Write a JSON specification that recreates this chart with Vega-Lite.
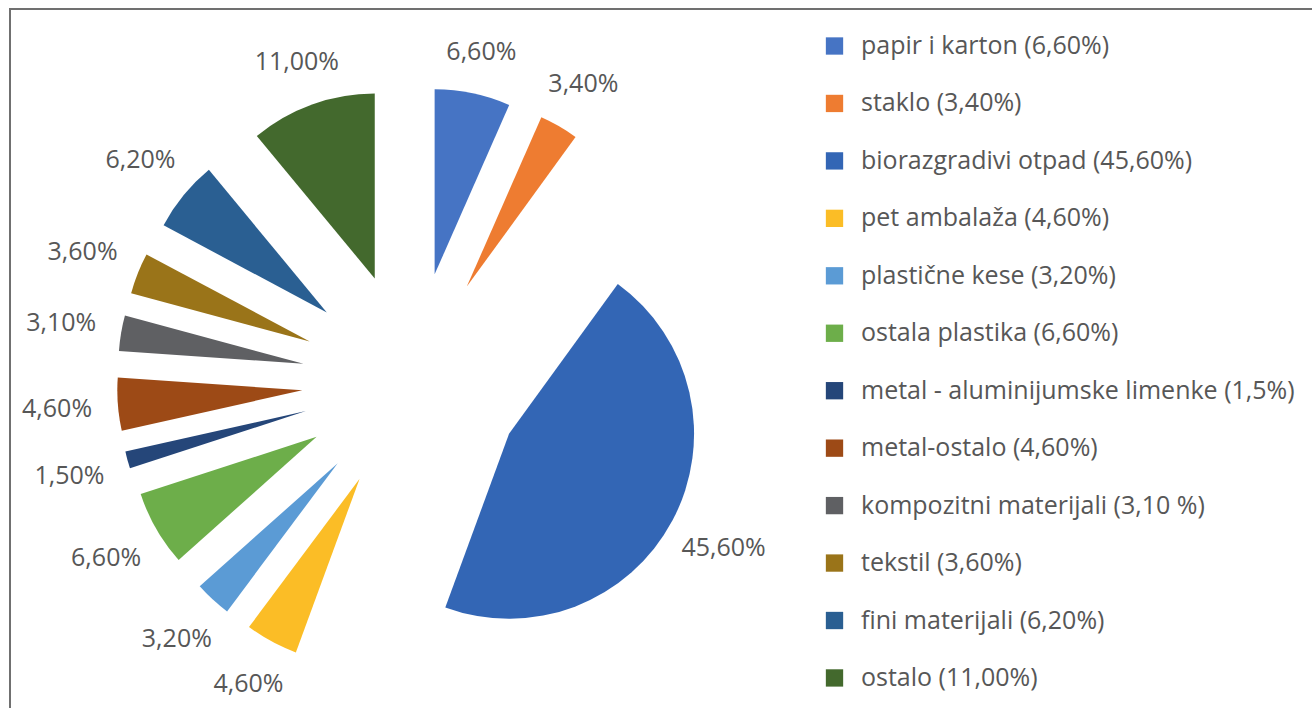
{
  "$schema": "https://vega.github.io/schema/vega-lite/v6.json",
  "width": 1303,
  "height": 700,
  "autosize": "none",
  "padding": {"left": 10, "top": 9, "right": 0, "bottom": 0},
  "background": "white",
  "config": {"view": {"stroke": "#707070", "strokeWidth": 2}, "font": "Open Sans"},
  "params": [
    {"name": "cx", "value": 402},
    {"name": "cy", "value": 373},
    {"name": "ex", "value": 110}
  ],
  "data": {
    "values": [
      {"i": 1, "name": "papir i karton (6,60%)", "v": 6.6, "lbl": "6,60%"},
      {"i": 2, "name": "staklo (3,40%)", "v": 3.4, "lbl": "3,40%"},
      {"i": 3, "name": "biorazgradivi otpad (45,60%)", "v": 45.6, "lbl": "45,60%"},
      {"i": 4, "name": "pet ambalaža (4,60%)", "v": 4.6, "lbl": "4,60%"},
      {"i": 5, "name": "plastične kese (3,20%)", "v": 3.2, "lbl": "3,20%"},
      {"i": 6, "name": "ostala plastika (6,60%)", "v": 6.6, "lbl": "6,60%"},
      {"i": 7, "name": "metal - aluminijumske limenke (1,5%)", "v": 1.5, "lbl": "1,50%"},
      {"i": 8, "name": "metal-ostalo (4,60%)", "v": 4.6, "lbl": "4,60%"},
      {"i": 9, "name": "kompozitni materijali (3,10 %)", "v": 3.1, "lbl": "3,10%"},
      {"i": 10, "name": "tekstil (3,60%)", "v": 3.6, "lbl": "3,60%"},
      {"i": 11, "name": "fini materijali (6,20%)", "v": 6.2, "lbl": "6,20%"},
      {"i": 12, "name": "ostalo (11,00%)", "v": 11.0, "lbl": "11,00%"}
    ]
  },
  "layer": [
    {
      "mark": {"type": "arc", "outerRadius": 185},
      "encoding": {
        "theta": {"field": "v", "type": "quantitative", "stack": true},
        "order": {"field": "i", "type": "quantitative"},
        "color": {
          "field": "name",
          "type": "nominal",
          "sort": null,
          "scale": {
            "domain": [
              "papir i karton (6,60%)", "staklo (3,40%)", "biorazgradivi otpad (45,60%)",
              "pet ambalaža (4,60%)", "plastične kese (3,20%)", "ostala plastika (6,60%)",
              "metal - aluminijumske limenke (1,5%)", "metal-ostalo (4,60%)",
              "kompozitni materijali (3,10 %)", "tekstil (3,60%)", "fini materijali (6,20%)",
              "ostalo (11,00%)"
            ],
            "range": [
              "#4674C4", "#EE7C31", "#3366B5", "#FBBD26", "#5B9BD5", "#6DAE4A",
              "#254679", "#9D4A16", "#5F6063", "#9A7419", "#2A5F92", "#43692D"
            ]
          },
          "legend": {
            "title": null,
            "orient": "none",
            "legendX": 812,
            "legendY": 24.5,
            "symbolType": "square",
            "symbolSize": 300,
            "symbolStrokeWidth": 0,
            "symbolOpacity": 1,
            "labelFontSize": 25,
            "labelColor": "#575757",
            "labelFont": "Open Sans",
            "labelLimit": 600,
            "labelOffset": 14,
            "rowPadding": 31.45,
            "padding": 0
          }
        },
        "x": {"value": {"expr": "cx + ex*sin(scale('theta', (datum.v_start + datum.v_end)/2))"}},
        "y": {"value": {"expr": "cy - ex*cos(scale('theta', (datum.v_start + datum.v_end)/2))"}}
      }
    },
    {
      "mark": {"type": "text", "fontSize": 25, "color": "#575757", "font": "Open Sans", "align": "center", "baseline": "middle"},
      "encoding": {
        "theta": {"field": "v", "type": "quantitative", "stack": true},
        "order": {"field": "i", "type": "quantitative"},
        "detail": {"field": "name", "type": "nominal"},
        "text": {"field": "lbl", "type": "nominal"},
        "x": {"value": {"expr": "cx + ex*sin(scale('theta', (datum.v_start + datum.v_end)/2))"}},
        "y": {"value": {"expr": "cy - ex*cos(scale('theta', (datum.v_start + datum.v_end)/2))"}},
        "radius": {"value": {"expr": "222 + 24*abs(sin(scale('theta', (datum.v_start + datum.v_end)/2)))"}}
      }
    }
  ]
}
